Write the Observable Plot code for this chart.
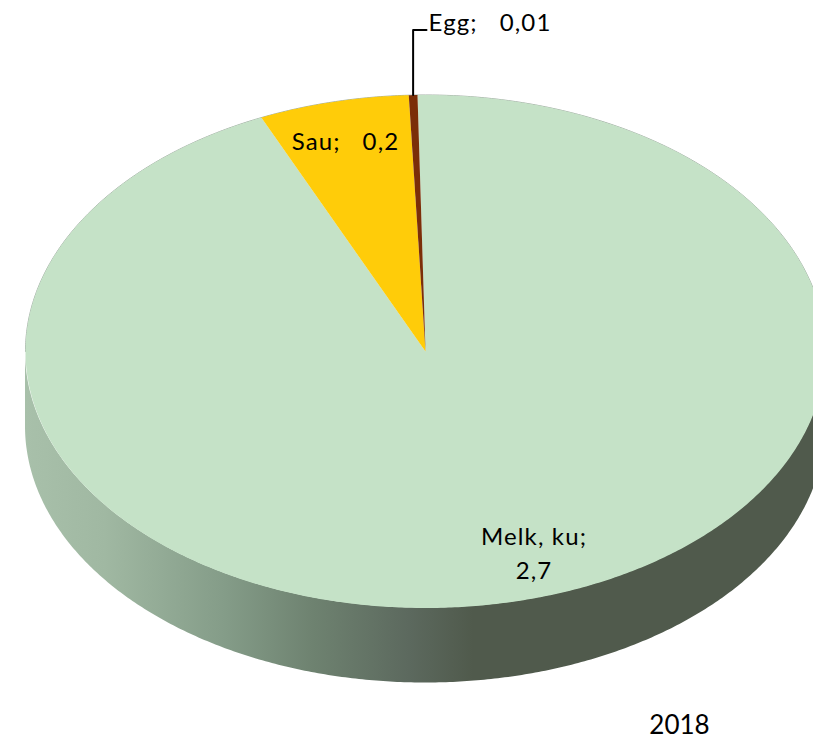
<!DOCTYPE html>
<html>
<head>
<meta charset="utf-8">
<script src="https://cdn.jsdelivr.net/npm/d3@7"></script>
<script src="https://cdn.jsdelivr.net/npm/@observablehq/plot@0.6"></script>
<style>html,body{margin:0;padding:0;background:#fff}svg{display:block}</style>
</head>
<body>
<div id="chart"></div>
<script>
// Data
const categories = ["Melk, ku", "Sau", "Egg"];
const shares = [2.7, 0.175, 0.01];            // Sau's drawn angle reads ≈0.175, labelled rounded
const valueLabels = ["2,7", "0,2", "0,01"];
const sliceColors = ["#C5E2C7", "#FFCC09", "#7B2E08"];
const yearLabel = "2018";

// Pie layout in unit-disc coordinates
const W = 813, H = 739;
const cx = 425, cy = 351, rx = 400, ry = 256.5, depth = 75 / ry;
const rad = Math.PI / 180;
const pie = d3.pie().sort(null).startAngle(-1.15 * rad).endAngle((360 - 1.15) * rad);
const arcs = pie(shares);

const pt = a => ({ x: Math.sin(a), y: Math.cos(a) });
const sliceRows = arcs.flatMap((d, i) => {
  const n = Math.max(4, Math.ceil((d.endAngle - d.startAngle) / (0.5 * rad)));
  const pts = d3.range(n + 1).map(k => pt(d.startAngle + (d.endAngle - d.startAngle) * k / n));
  return [{ x: 0, y: 0 }, ...pts, { x: 0, y: 0 }].map(p => ({ ...p, name: categories[i] }));
});

// Front half of the rim, for the wall
const wallRows = d3.range(90, 270.01, 0.5).map(deg => {
  const p = pt(deg * rad);
  return { x: p.x, y1: p.y, y2: p.y - depth };
});
const backRim = d3.range(-90, 90.01, 0.5).map(deg => pt(deg * rad));

const xU = px => (px - cx) / rx, yU = py => (cy - py) / ry;
const eggMid = pt((arcs[2].startAngle + arcs[2].endAngle) / 2);
const leader = [
  { x: eggMid.x, y: eggMid.y },
  { x: eggMid.x, y: yU(29.5) },
  { x: xU(426), y: yU(29.5) }
];
const labels = [
  { x: xU(533.5), y: yU(550.5), text: `${categories[0]};\n${valueLabels[0]}` },
  { x: xU(345), y: yU(138.3), text: `${categories[1]};\u00A0\u00A0\u00A0${valueLabels[1]}` },
  { x: xU(489.5), y: yU(20), text: `${categories[2]};\u00A0\u00A0\u00A0${valueLabels[2]}` }
];
const yearRow = [{ x: xU(679), y: yU(725.5), text: yearLabel }];

const wallGradient = () => {
  const defs = d3.create("svg:defs");
  const g = defs.append("linearGradient").attr("id", "wallShade")
    .attr("gradientUnits", "userSpaceOnUse")
    .attr("x1", 25).attr("x2", 825).attr("y1", 0).attr("y2", 0);
  [[0, "#A8C0AA"], [0.1, "#A0B8A2"], [0.25, "#849C88"], [0.36, "#6E8270"], [0.48, "#5C695E"], [0.56, "#505A4C"], [1, "#505A4C"]]
    .forEach(([o, c]) => g.append("stop").attr("offset", o).attr("stop-color", c));
  return defs.node();
};

const spaced = (index, scales, values, dims, ctx, next) => {
  const g = next(index, scales, values, dims, ctx);
  d3.select(g).style("letter-spacing", "1.15px");
  return g;
};

const chart = Plot.plot({
  width: W, height: H,
  margin: 0,
  style: { background: "#fff", fontFamily: "Lato, sans-serif", overflow: "hidden" },
  x: { axis: null, domain: [xU(0), xU(W)], range: [0, W] },
  y: { axis: null, domain: [yU(H), yU(0)], range: [H, 0] },
  color: { domain: categories, range: sliceColors },
  marks: [
    wallGradient,
    Plot.areaY(wallRows, { x: "x", y1: "y1", y2: "y2", fill: "url(#wallShade)" }),
    Plot.line(backRim, { x: "x", y: "y", stroke: "#8C9A8E", strokeWidth: 0.8 }),
    Plot.line(sliceRows, { x: "x", y: "y", z: "name", fill: "name", stroke: "none" }),
    Plot.line(leader, { x: "x", y: "y", stroke: "#000", strokeWidth: 2, curve: "linear" }),
    Plot.text(labels, { x: "x", y: "y", text: "text", fontSize: 24, fill: "#000", lineHeight: 1.4, textAnchor: "middle", render: spaced }),
    Plot.text(yearRow, { x: "x", y: "y", text: "text", fontSize: 26, fill: "#000", textAnchor: "middle" })
  ]
});
document.getElementById("chart").append(chart);
</script>
</body>
</html>
